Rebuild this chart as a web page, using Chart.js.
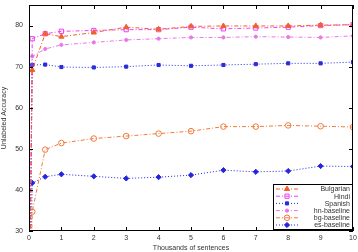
<!DOCTYPE html>
<html>
<head>
<meta charset="utf-8">
<script src="https://cdn.jsdelivr.net/npm/chart.js@4/dist/chart.umd.min.js"></script>
<style>
  html, body { margin: 0; padding: 0; background: #fff; }
  #wrap { width: 358px; height: 252px; }
</style>
</head>
<body>
<div id="wrap"><canvas id="chart"></canvas></div>
<script>
// thousands of sentences
const sentences = [0, 0.1, 0.5, 1, 2, 3, 4, 5, 6, 7, 8, 9, 10];

const bulgarian  = [0, 69.2, 78.0, 77.3, 78.3, 79.6, 79.1, 79.8, 79.9, 79.9, 79.9, 80.1, 80.2];
const hindi      = [0, 76.8, 78.0, 78.6, 78.8, 79.0, 79.0, 79.6, 79.2, 79.4, 79.6, 80.0, 80.2];
const spanish    = [0, 70.4, 70.5, 69.9, 69.8, 70.0, 70.4, 70.2, 70.4, 70.6, 70.8, 70.8, 71.1];
const hnBaseline = [0, 72.5, 74.3, 75.3, 75.9, 76.5, 76.8, 77.1, 77.1, 77.3, 77.2, 77.1, 77.5];
const bgBaseline = [0, 34.7, 49.8, 51.4, 52.5, 53.1, 53.7, 54.3, 55.4, 55.4, 55.7, 55.5, 55.3];
const esBaseline = [0, 41.7, 43.2, 43.8, 43.3, 42.8, 43.1, 43.6, 44.8, 44.4, 44.6, 45.8, 45.7];

const xTicks = [0, 1, 2, 3, 4, 5, 6, 7, 8, 9, 10];
const yTicks = [30, 40, 50, 60, 70, 80];

const FONT = 'Liberation Sans, Arial, sans-serif';
const TEXT = '#333';

function series(label, values, color, dash, style, fill, radius) {
    return {
        label: label,
        data: values.map((v, i) => ({ x: sentences[i], y: v })),
        borderColor: color,
        backgroundColor: fill ? color : '#fff',
        pointBorderColor: color,
        pointBackgroundColor: fill ? color : 'rgba(255,255,255,0)',
        borderWidth: 1,
        borderDash: dash,
        pointStyle: style,
        pointRadius: radius,
        pointBorderWidth: 1,
        tension: 0
    };
}

const dashDot = [4, 2, 1, 2];
const dotted = [1, 2];

// gnuplot-ish frame, inward ticks and a legend box in the lower right
const framePlugin = {
    id: 'frame',
    afterDraw(chart) {
        const { ctx, chartArea: a, scales } = chart;
        ctx.save();
        ctx.strokeStyle = '#000';
        ctx.lineWidth = 1;
        ctx.setLineDash([]);
        ctx.strokeRect(a.left + 0.5, a.top + 0.5, a.right - a.left - 1, a.bottom - a.top - 1);
        ctx.beginPath();
        xTicks.forEach(t => {
            const px = Math.round(scales.x.getPixelForValue(t)) + 0.5;
            ctx.moveTo(px, a.bottom); ctx.lineTo(px, a.bottom - 4);
            ctx.moveTo(px, a.top); ctx.lineTo(px, a.top + 4);
        });
        yTicks.forEach(t => {
            const py = Math.round(scales.y.getPixelForValue(t)) + 0.5;
            ctx.moveTo(a.left, py); ctx.lineTo(a.left + 4, py);
            ctx.moveTo(a.right, py); ctx.lineTo(a.right - 4, py);
        });
        ctx.stroke();

        // legend
        const bx = 273, by = 184, bw = 79, bh = 45;
        ctx.fillStyle = '#fff';
        ctx.fillRect(bx, by, bw, bh);
        ctx.strokeRect(bx + 0.5, by + 0.5, bw, bh);
        ctx.font = '7px ' + FONT;
        ctx.textAlign = 'right';
        ctx.textBaseline = 'middle';
        chart.data.datasets.forEach((ds, i) => {
            const y = by + 5 + i * 7.2;
            ctx.strokeStyle = ds.borderColor;
            ctx.setLineDash(ds.borderDash);
            ctx.beginPath();
            ctx.moveTo(276, y); ctx.lineTo(298, y);
            ctx.stroke();
            ctx.setLineDash([]);
            ctx.fillStyle = ds.pointBackgroundColor;
            ctx.strokeStyle = ds.pointBorderColor;
            Chart.helpers.drawPoint(ctx, { pointStyle: ds.pointStyle, radius: ds.pointRadius, borderWidth: 1 }, 287, y);
            ctx.fillStyle = TEXT;
            ctx.fillText(ds.label, 350, y + 0.5);
        });
        ctx.restore();
    }
};

new Chart(document.getElementById('chart'), {
    type: 'line',
    data: {
        datasets: [
            series('Bulgarian', bulgarian, '#f0602a', dashDot, 'triangle', true, 3),
            series('Hindi', hindi, '#f040f0', dashDot, 'rect', false, 3),
            series('Spanish', spanish, '#2a2ae0', dotted, 'rect', true, 2.2),
            series('hn-baseline', hnBaseline, '#e878e8', dashDot, 'circle', true, 1.6),
            series('bg-baseline', bgBaseline, '#f07a3c', dashDot, 'circle', false, 2.8),
            series('es-baseline', esBaseline, '#2424e0', dotted, 'rectRot', true, 2.6)
        ]
    },
    options: {
        responsive: true,
        maintainAspectRatio: false,
        animation: false,
        layout: { padding: { left: 0, right: 4, top: 4, bottom: 0 } },
        plugins: {
            legend: { display: false },
            tooltip: { enabled: false }
        },
        scales: {
            x: {
                type: 'linear',
                min: 0,
                max: 10,
                grid: { display: false, drawTicks: false },
                border: { display: false },
                afterBuildTicks: s => { s.ticks = xTicks.map(v => ({ value: v })); },
                afterFit: s => { s.height = 21; s.paddingLeft = 0; s.paddingRight = 0; },
                ticks: { color: TEXT, font: { family: FONT, size: 7 }, padding: 3, maxRotation: 0 },
                title: {
                    display: true,
                    text: 'Thousands of sentences',
                    color: TEXT,
                    font: { family: FONT, size: 7 },
                    padding: { top: 0, bottom: 0 }
                }
            },
            y: {
                min: 30,
                max: 85,
                grid: { display: false, drawTicks: false },
                border: { display: false },
                afterBuildTicks: s => { s.ticks = yTicks.map(v => ({ value: v })); },
                afterFit: s => { s.width = 29; s.paddingTop = 0; s.paddingBottom = 0; },
                ticks: { color: TEXT, font: { family: FONT, size: 7 }, padding: 6 },
                title: {
                    display: true,
                    text: 'Unlabeled Accuracy',
                    color: TEXT,
                    font: { family: FONT, size: 7 },
                    padding: { top: 0, bottom: 2 }
                }
            }
        }
    },
    plugins: [framePlugin]
});
</script>
</body>
</html>
